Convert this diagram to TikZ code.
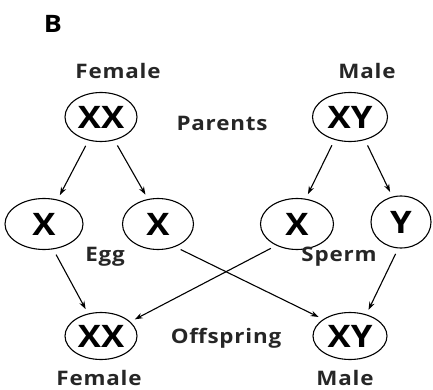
\documentclass[tikz,border=0pt]{standalone}
\usepackage{fontspec}
\usetikzlibrary{shapes.geometric,arrows.meta}
\newfontfamily\lblfont[FakeStretch=1.12,LetterSpace=4]{Open Sans}
\newfontfamily\chrfont[FakeStretch=1.12]{Open Sans}
\begin{document}
\begin{tikzpicture}[x=1pt,y=-1pt,
  lbl/.style={font=\lblfont\bfseries\fontsize{20}{22}\selectfont, text=black!85, inner sep=0pt},
  chrom/.style={draw, line width=1.1pt, ellipse, inner sep=0pt, minimum height=49pt,
     font=\chrfont\bfseries\fontsize{31}{33}\selectfont},
  arr/.style={line width=1.1pt, -{Stealth[length=8pt,width=5.5pt]}, shorten <=6pt, shorten >=5pt}]
\useasboundingbox (0,0) rectangle (433,390);
\node[font=\chrfont\bfseries\fontsize{24}{26}\selectfont, inner sep=0pt] (B) at (53,24) {B};
\node[lbl] (tF) at (118,71) {Female};
\node[lbl] (tM) at (367,71) {Male};
\node[lbl] (tP) at (222,123) {Parents};
\node[chrom, minimum width=72pt] (pF) at (101,117) {XX};
\node[chrom, minimum width=75pt] (pM) at (350,117) {XY};
\node[chrom, minimum width=78pt, minimum height=51pt] (e1) at (44,224) {X};
\node[chrom, minimum width=71pt, minimum height=51pt] (e2) at (158,224) {X};
\node[chrom, minimum width=73pt, minimum height=51pt] (s1) at (297,224) {X};
\node[chrom, minimum width=60pt, minimum height=52pt] (s2) at (401,222) {Y};
\node[lbl] (tE) at (105,257) {Egg};
\node[lbl] (tS) at (339,257) {Sperm};
\node[chrom, minimum width=72pt, minimum height=47pt] (oF) at (101,336) {XX};
\node[chrom, minimum width=74pt, minimum height=47pt] (oM) at (350,336) {XY};
\node[lbl] (tO) at (226,338) {Offspring};
\node[lbl] (bF) at (99,378) {Female};
\node[lbl] (bM) at (345,378) {Male};
\draw[arr] (pF.-118) -- (e1.61);
\draw[arr] (pF.-60) -- (e2.112);
\draw[arr] (pM.-124) -- (s1.71);
\draw[arr] (pM.-57) -- (s2.109);
\draw[arr] (e1.-70) -- (oF.120);
\draw[arr] (s1.-134) -- (oF.26);
\draw[arr] (e2.-53) -- (oM.148);
\draw[arr] (s2.-96) -- (oM.53);
\end{tikzpicture}
\end{document}
